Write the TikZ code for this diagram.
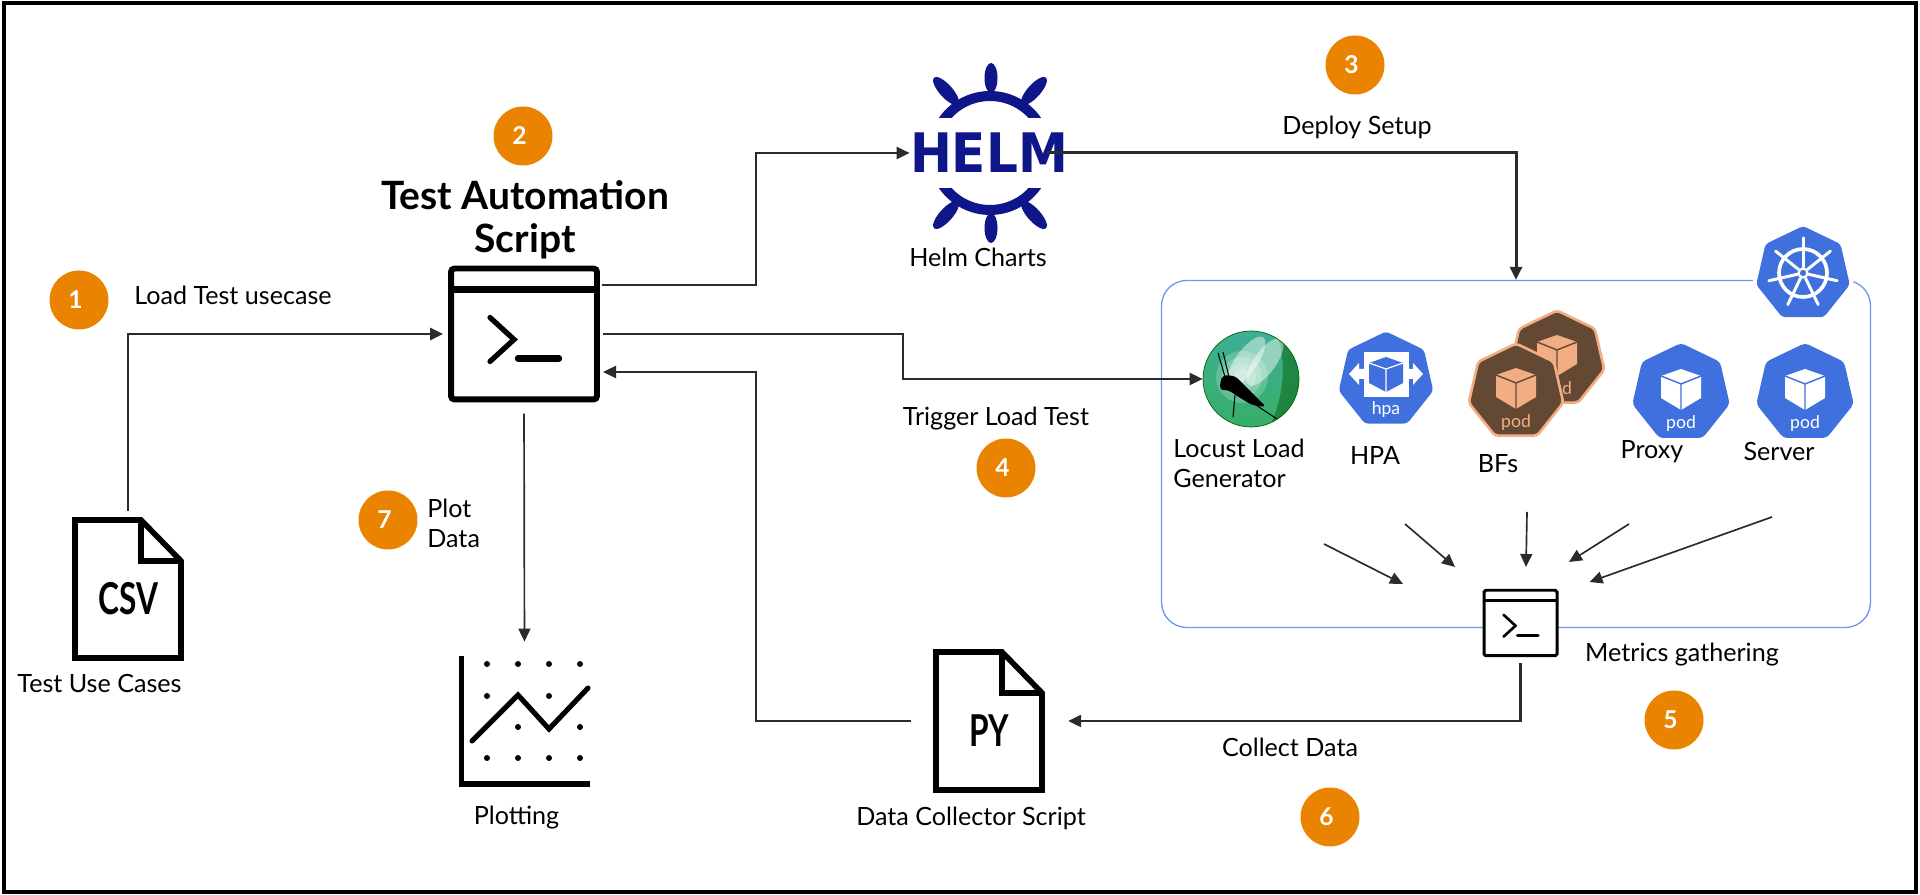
\documentclass[tikz,border=0pt]{standalone}
\usepackage{fontspec}
\usepackage{graphicx}
\setmainfont{Lato}
\newfontfamily\helmfont{DejaVu Sans}
\usepackage{tikz}
\usetikzlibrary{arrows.meta,calc,shapes.geometric}

\definecolor{stepc}{HTML}{E98300}
\definecolor{connc}{HTML}{2B2B2E}
\definecolor{helmc}{HTML}{0F1689}
\definecolor{kubec}{HTML}{3F70DE}
\definecolor{boxc}{HTML}{7095F0}
\definecolor{brownc}{HTML}{634834}
\definecolor{peachc}{HTML}{F2AE82}
\definecolor{locusttop}{HTML}{3FAE96}
\definecolor{locustmid}{HTML}{1A9A3C}
\definecolor{locustlow}{HTML}{36AE68}
\definecolor{locustdark}{HTML}{0A6614}

\tikzset{
    lbl/.style={font=\fontsize{14.3}{17}\selectfont, inner sep=0pt},
    stepmark/.style={circle, fill=stepc, text=white, inner sep=0pt, minimum size=1.18cm, font=\fontsize{14}{17}\selectfont\bfseries},
    conn/.style={draw=connc, line width=1.4pt, -{Stealth[length=7.4pt,width=6.8pt,inset=0pt]}},
    thinconn/.style={conn, line width=0.95pt},
    podshape/.style={regular polygon, regular polygon sides=7, minimum size=1.94cm, inner sep=0pt, rounded corners=2pt},
    podtext/.style={font=\fontsize{10}{12}\selectfont, inner sep=0pt},
    doctext/.style={font=\fontsize{25}{25}\selectfont\bfseries, inner sep=0pt},
}

% name, x, y, size factor
\newcommand{\termicon}[4]{
    \node[draw=black, fill=white, line width=#4*3.4pt, rounded corners=#4*2pt, inner sep=0pt,
          minimum width=#4*2.92cm, minimum height=#4*2.62cm] (#1) at (#2,#3) {};
    \begin{scope}[shift={(#1.center)}, scale=#4]
        \draw[line width=#4*3.6pt] (-73,44.5) -- (73,44.5);
        \draw[line width=#4*3pt, line cap=round, line join=miter] (-34,16.5) -- (-10,-5.5) -- (-34,-27.5);
        \draw[line width=#4*3.6pt, line cap=round] (-6,-24.5) -- (35,-24.5);
    \end{scope}
}
% name, x, y, text
\newcommand{\docicon}[4]{
    \node[inner sep=0pt, minimum width=2.24cm, minimum height=2.88cm] (#1) at (#2,#3) {};
    \begin{scope}[shift={(#1.center)}]
        \draw[line width=3.2pt, line join=miter] (-53,69) -- (13,69) -- (53,28) -- (53,-69) -- (-53,-69) -- cycle;
        \draw[line width=3.2pt, line join=miter] (13,69) -- (13,28) -- (53,28);
        \node[doctext] (#1txt) at (0.5,-9.5) {\scalebox{0.72}[1]{#4}};
    \end{scope}
}
% name, x, y, fill, edge, cube
\newcommand{\podicon}[6]{
    \node[podshape, fill=#4, draw=#5, line width=1.5pt] (#1) at (#2,#3) {};
    \begin{scope}[shift={(#1.center)}]
        \fill[#6] (0,24) -- (20,17) -- (20,-5) -- (0,-17) -- (-20,-5) -- (-20,17) -- cycle;
        \draw[#4, line width=0.8pt] (-20,17) -- (0,9) -- (20,17) (0,9) -- (0,-17);
        \node[podtext, text=#6] (#1txt) at (0,-31) {pod};
    \end{scope}
}

\begin{document}
\begin{tikzpicture}[x=0.02cm, y=0.02cm]
    \useasboundingbox (0,0) rectangle (1920,895);
    % Outline
    \draw[line width=2.4pt] (4,3) rectangle (1916,892);

    % Kubernetes box
    \node[draw=boxc, line width=0.75pt, rounded corners=0.5cm, inner sep=0pt, minimum width=14.18cm, minimum height=6.94cm] (kubebox) at (1516,441) {};
    \node[podshape, fill=white, minimum size=2.1cm] (kubehalo) at (1803,621) {};
    \node[podshape, fill=kubec, minimum size=1.92cm] (kube) at (1803,621) {};
    \begin{scope}[shift={(1803,622)}, white]
        \draw[line width=2.1pt] (0,0) circle[radius=24];
        \draw[line width=1.3pt] (0,0) circle[radius=4.5];
        \foreach \a in {90,141.43,192.86,244.29,295.71,347.14,38.57}
            \draw[line width=1.7pt, line cap=round] (\a:6) -- (\a:35);
    \end{scope}

    % Modules
    \termicon{script}{524}{561}{1}
    \termicon{metrics}{1520.5}{272}{0.5}
    \docicon{csvdoc}{128}{306}{CSV}
    \docicon{pydoc}{989}{174}{PY}

    % Plotting chart
    \node[inner sep=0pt, minimum width=2.62cm, minimum height=2.62cm] (plot) at (524.5,173.5) {};
    \draw[line width=3.2pt, line join=miter] (461.5,239) -- (461.5,111) -- (590,111);
    \foreach \px/\py in {487/231,518/231,549/231,580/231,487/199,549/199,518/168,580/168,487/137,518/137,549/137,580/137}
        \fill (\px,\py) circle[radius=3];
    \draw[line width=2.9pt, line cap=round, line join=miter] (472,154) -- (518,200) -- (549,166) -- (588,207);

    % Helm logo
    \foreach \s in {1,-1} {
        \begin{scope}[shift={(990,742)}, yscale=\s, helmc]
            \fill (145.5:62) arc[start angle=145.5, end angle=34.5, radius=62] -- (42.3:52) arc[start angle=42.3, end angle=137.7, radius=52] -- cycle;
            \fill (1,75) ellipse[x radius=6.5, y radius=15];
            \fill[shift={(-44,62)}, rotate=42] (0,0) ellipse[x radius=6.5, y radius=18];
            \fill[shift={(44,62)}, rotate=-42] (0,0) ellipse[x radius=6.5, y radius=18];
        \end{scope}
    }
    \node[text=helmc, inner sep=0pt, font=\fontsize{31}{31}\helmfont\bfseries] (helm) at (989,742) {\scalebox{0.92}[1]{HELM}};

    % Locust
    \node[circle, inner sep=0pt, minimum size=1.92cm] (locust) at (1251,516) {};
    \shade[top color=locusttop, middle color=locustmid, bottom color=locustlow] (locust.center) circle[radius=48];
    \fill[locustdark, opacity=0.55] (1251,516) ++(55:48) arc[start angle=55, end angle=-65, radius=48] .. controls (1280,490) and (1288,525) .. cycle;
    \foreach \r in {26,20,14,8}
        \fill[white, opacity=0.2] (1242,518) circle[radius=\r];
    \fill[white, opacity=0.45, rotate around={-35:(1246,533)}] (1246,533) ellipse[x radius=11, y radius=30];
    \fill[white, opacity=0.45, rotate around={-35:(1265,533)}] (1265,533) ellipse[x radius=11, y radius=28];
    \fill[rounded corners=2pt] (1220,512) -- (1223,520) -- (1235,519) -- (1247,507) -- (1266,488) -- (1252,490) -- (1237,499) -- (1228,505) -- (1225,505) -- (1220,505) -- cycle;
    \draw[line width=0.6pt] (1218,542) -- (1225,518) (1223,543) -- (1229,518) (1235,500) -- (1233,478) (1253,492) -- (1277,476);
    \draw[black!60!green, line width=0.4pt] (locust.center) circle[radius=48];

    % HPA
    \node[podshape, fill=kubec] (hpa) at (1386,515) {};
    \begin{scope}[shift={(hpa.center)}]
        \fill[white] (-22,28) rectangle (23,-17);
        \fill[white] (-37,6) -- (-27,17) -- (-27,11) -- (-22,11) -- (-22,1) -- (-27,1) -- (-27,-5) -- cycle;
        \fill[white] (37,6) -- (27,17) -- (27,11) -- (22,11) -- (22,1) -- (27,1) -- (27,-5) -- cycle;
        \fill[kubec] (0,23) -- (17,17) -- (17,-3) -- (0,-12) -- (-17,-3) -- (-17,17) -- cycle;
        \draw[white, line width=0.7pt] (-17,17) -- (0,11) -- (17,17) (0,11) -- (0,-12);
        \node[podtext, text=white] (hpatxt) at (0,-30) {hpa};
    \end{scope}

    % Pods
    \podicon{bfback}{1557}{536}{brownc}{peachc}{peachc}
    \podicon{bffront}{1516}{503}{brownc}{peachc}{peachc}
    \podicon{proxy}{1681}{502}{kubec}{kubec}{white}
    \podicon{server}{1805}{502}{kubec}{kubec}{white}

    % Buses
    % Use cases to script
    \draw[conn, shorten <=3.4pt, shorten >=2.8pt] (csvdoc.north) |- (script.west);
    % Script to Helm
    \coordinate (scriptup) at (602,610);
    \draw[conn] (scriptup) -- (756,610) |- (helm.west);
    % Helm to cluster
    \draw[conn, line width=1.7pt] ($(helm.east)+(-21,0)$) -| (kubebox.north);
    % Script to Locust
    \coordinate (trigturn) at (903,516);
    \draw[conn, shorten <=2pt] (script.east) -| (trigturn) -- (locust.west);
    % Collector to script
    \coordinate (scriptin) at (603,523);
    \draw[conn, shorten <=12.5pt] (pydoc.west) -- (756,174) |- (scriptin);
    % Metrics to collector
    \draw[conn, shorten <=3.4pt, shorten >=13pt] (metrics.south) |- (pydoc.east);
    % Script to plot
    \draw[thinconn, shorten <=6.3pt, shorten >=8pt] (script.south) -- (plot.north);

    % Metrics arrows
    \coordinate (fromlocust) at (1324,351);
    \coordinate (tolocust) at (1403,311);
    \coordinate (fromhpa) at (1405,371);
    \coordinate (tohpa) at (1455,328);
    \coordinate (frombf) at (1527,383);
    \coordinate (tobf) at (1526,328);
    \coordinate (fromproxy) at (1629,371);
    \coordinate (toproxy) at (1569,333);
    \coordinate (fromserver) at (1772,378);
    \coordinate (toserver) at (1589.5,313);
    \draw[thinconn] (fromlocust) -- (tolocust);
    \draw[thinconn] (fromhpa) -- (tohpa);
    \draw[thinconn] (frombf) -- (tobf);
    \draw[thinconn] (fromproxy) -- (toproxy);
    \draw[thinconn] (fromserver) -- (toserver);

    % Steps
    \node[stepmark] (stepa) at (79,595) {\kern-4pt 1};
    \node[stepmark] (stepb) at (523,759) {\kern-4pt 2};
    \node[stepmark] (stepc) at (1355,830) {\kern-4pt 3};
    \node[stepmark] (stepd) at (1006,427) {\kern-4pt 4};
    \node[stepmark] (stepe) at (1674,175) {\kern-4pt 5};
    \node[stepmark] (stepf) at (1330,78) {\kern-4pt 6};
    \node[stepmark] (stepg) at (388,375) {\kern-4pt 7};

    % Labels
    \node[lbl, align=center, font=\fontsize{22.2}{24.6}\selectfont\bfseries] (titlelbl) at (525,675) {Test Automation\\Script};
    \node[lbl] (loadlbl) at (233,600) {Load Test usecase};
    \node[lbl] (usecaselbl) at (99.5,211) {Test Use Cases};
    \node[lbl, anchor=west, align=left] (plotdatalbl) at (427,372) {Plot\\Data};
    \node[lbl] (plottinglbl) at (516.5,77) {Plotting};
    \node[lbl] (chartslbl) at (978,638) {Helm Charts};
    \node[lbl] (deploylbl) at (1357,768) {Deploy Setup};
    \node[lbl] (triggerlbl) at (996,476) {Trigger Load Test};
    \node[lbl, anchor=west, align=left] (locustlbl) at (1173,432) {Locust Load\\Generator};
    \node[lbl] (hpalbl) at (1375,439) {HPA};
    \node[lbl] (bflbl) at (1498,431) {BFs};
    \node[lbl] (proxylbl) at (1652,443) {Proxy};
    \node[lbl] (serverlbl) at (1779,443) {Server};
    \node[lbl] (metricslbl) at (1682,240) {Metrics gathering};
    \node[lbl] (collectlbl) at (1290,148) {Collect Data};
    \node[lbl] (collectorlbl) at (971,77) {Data Collector Script};
\end{tikzpicture}
\end{document}
